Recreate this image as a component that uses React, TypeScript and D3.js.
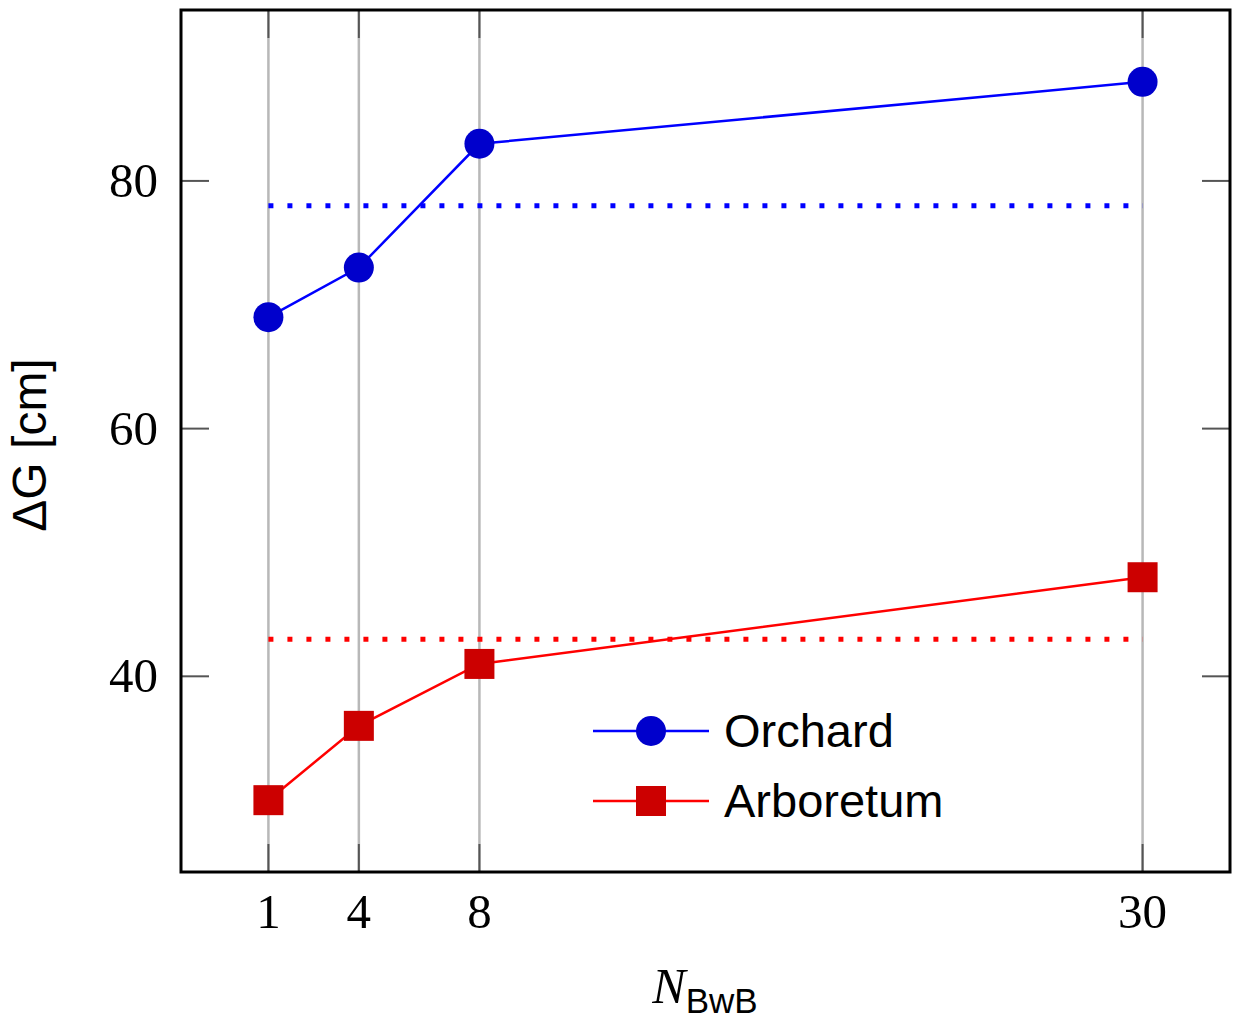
import * as d3 from 'd3';

const nValues = [1, 4, 8, 30];
const orchard = [69, 73, 83, 88];
const arboretum = [30, 36, 41, 48];
const orchardRef = 78;
const arboretumRef = 43;
const yTicks = [40, 60, 80];
const seriesNames = ['Orchard', 'Arboretum'];

const W = 1241;
const H = 1023;
const m = { left: 181, right: 1230, top: 10, bottom: 872 };

export default function App(): JSX.Element {
  const x = d3.scaleLinear().domain([-1.9, 32.9]).range([m.left, m.right]);
  const y = d3.scaleLinear().domain([24.2, 93.8]).range([m.bottom, m.top]);

  const line = d3
    .line<number>()
    .x((_, i) => x(nValues[i]))
    .y(d => y(d));

  const serif = '"Liberation Serif", "DejaVu Serif", serif';
  const sans = '"Liberation Sans", "DejaVu Sans", sans-serif';
  const tickLen = 28;
  const sq = 30;

  const blue = '#0000ff';
  const blueMark = '#0000cc';
  const red = '#ff0000';
  const redMark = '#cc0000';

  const legX = 593;
  const legY = [731, 801];

  return (
    <svg
      xmlns="http://www.w3.org/2000/svg"
      width={W}
      height={H}
      style={{ position: 'absolute', left: 0, top: 0, background: '#fff' }}
    >
      {/* vertical grid */}
      {nValues.map(v => (
        <line
          key={'g' + v}
          x1={x(v)}
          x2={x(v)}
          y1={m.top}
          y2={m.bottom}
          stroke="#b8b8b8"
          strokeWidth={2.5}
        />
      ))}
      {/* x ticks (bottom & top) */}
      {nValues.map(v => (
        <g key={'xt' + v} stroke="#555" strokeWidth={2}>
          <line x1={x(v)} x2={x(v)} y1={m.bottom} y2={m.bottom - tickLen} />
          <line x1={x(v)} x2={x(v)} y1={m.top} y2={m.top + tickLen} />
        </g>
      ))}
      {/* y ticks (left & right) */}
      {yTicks.map(v => (
        <g key={'yt' + v} stroke="#555" strokeWidth={2}>
          <line x1={m.left} x2={m.left + tickLen} y1={y(v)} y2={y(v)} />
          <line x1={m.right} x2={m.right - tickLen} y1={y(v)} y2={y(v)} />
        </g>
      ))}

      {/* reference dotted lines */}
      <line
        x1={x(nValues[0])}
        x2={x(nValues[nValues.length - 1])}
        y1={y(orchardRef)}
        y2={y(orchardRef)}
        stroke={blue}
        strokeWidth={5}
        strokeDasharray="5 14"
      />
      <line
        x1={x(nValues[0])}
        x2={x(nValues[nValues.length - 1])}
        y1={y(arboretumRef)}
        y2={y(arboretumRef)}
        stroke={red}
        strokeWidth={5}
        strokeDasharray="5 14"
      />

      {/* series */}
      <path d={line(orchard) ?? ''} fill="none" stroke={blue} strokeWidth={2.5} />
      {orchard.map((v, i) => (
        <circle key={'o' + i} cx={x(nValues[i])} cy={y(v)} r={15} fill={blueMark} />
      ))}
      <path d={line(arboretum) ?? ''} fill="none" stroke={red} strokeWidth={2.5} />
      {arboretum.map((v, i) => (
        <rect
          key={'a' + i}
          x={x(nValues[i]) - sq / 2}
          y={y(v) - sq / 2}
          width={sq}
          height={sq}
          fill={redMark}
        />
      ))}

      {/* frame */}
      <rect
        x={m.left}
        y={m.top}
        width={m.right - m.left}
        height={m.bottom - m.top}
        fill="none"
        stroke="#000"
        strokeWidth={3}
      />

      {/* tick labels */}
      {nValues.map(v => (
        <text
          key={'xl' + v}
          x={x(v)}
          y={928}
          textAnchor="middle"
          fontFamily={serif}
          fontSize={49}
        >
          {v}
        </text>
      ))}
      {yTicks.map(v => (
        <text
          key={'yl' + v}
          x={158}
          y={y(v) + 16}
          textAnchor="end"
          fontFamily={serif}
          fontSize={49}
        >
          {v}
        </text>
      ))}

      {/* axis labels */}
      <text
        transform={`translate(46,${445}) rotate(-90)`}
        textAnchor="middle"
        fontFamily={sans}
        fontSize={48}
      >
        ΔG [cm]
      </text>
      <text x={705} y={1003} textAnchor="middle">
        <tspan fontFamily={serif} fontStyle="italic" fontSize={50}>
          N
        </tspan>
        <tspan fontFamily={sans} fontSize={35} dy={10}>
          BwB
        </tspan>
      </text>

      {/* legend */}
      {seriesNames.map((name, i) => (
        <g key={name}>
          <line
            x1={legX}
            x2={legX + 116}
            y1={legY[i]}
            y2={legY[i]}
            stroke={i === 0 ? blue : red}
            strokeWidth={2.5}
          />
          {i === 0 ? (
            <circle cx={legX + 58} cy={legY[i]} r={15} fill={blueMark} />
          ) : (
            <rect
              x={legX + 58 - sq / 2}
              y={legY[i] - sq / 2}
              width={sq}
              height={sq}
              fill={redMark}
            />
          )}
          <text x={724} y={legY[i] + 16} fontFamily={sans} fontSize={47}>
            {name}
          </text>
        </g>
      ))}
    </svg>
  );
}
